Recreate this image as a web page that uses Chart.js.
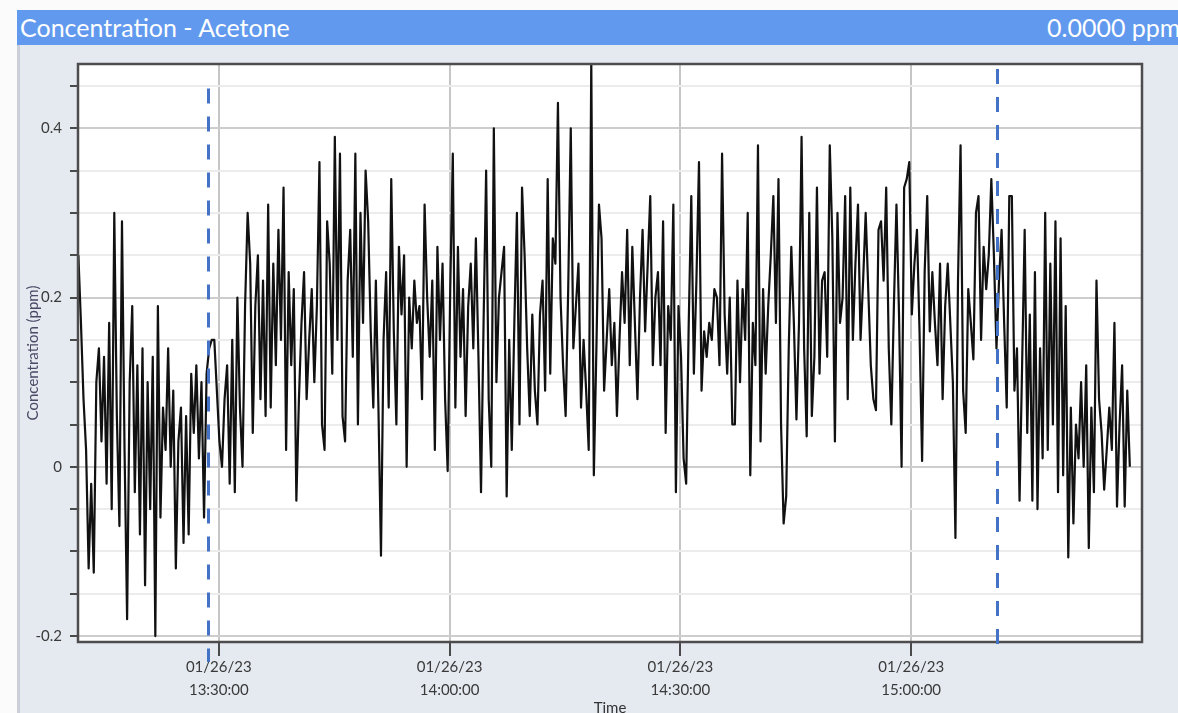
<!DOCTYPE html>
<html lang="en">
<head>
  <meta charset="UTF-8">
  <title>Concentration - Acetone</title>
  <style>
    html, body {
      margin: 0;
      padding: 0;
      width: 1178px;
      height: 713px;
      overflow: hidden;
      background: #fbfbfb;
      font-family: "Lato", "Open Sans", sans-serif;
    }
    #header {
      position: absolute;
      left: 17px;
      top: 10px;
      width: 1161px;
      height: 35px;
      line-height: 35px;
      background: #6199ee;
      color: #fff;
      font-size: 25px;
      white-space: nowrap;
      overflow: hidden;
    }
    #header .name { position: absolute; left: 3px; }
    #header .reading { position: absolute; left: 1030px; }
    #panel {
      position: absolute;
      left: 17px;
      top: 45px;
      width: 1161px;
      height: 668px;
      background: #e5e9f0;
      border-left: 3px solid #cbd0d8;
      box-sizing: border-box;
    }
    #chartBox {
      position: absolute;
      left: 17px;
      top: 47px;
    }
  </style>
</head>
<body>
  <div id="header"><span class="name">Concentration - Acetone</span><span class="reading">0.0000 ppm</span></div>
  <div id="panel"></div>
  <div id="chartBox">
    <canvas id="concChart" width="1161" height="670"></canvas>
  </div>

  <script src="https://cdn.jsdelivr.net/npm/chart.js@4.4.2/dist/chart.umd.min.js"></script>
  <script>
    // axis + sampling
    const dateLabel = '01/26/23';
    const tickTimes = ['13:30:00', '14:00:00', '14:30:00', '15:00:00'];
    const axisStart = '13:11:42';
    const axisEnd = '15:30:00';
    const sampleStart = '13:11:45';
    const sampleStepSec = 20;
    const yTickLabels = [-0.2, 0, 0.2, 0.4];
    const markerTimes = ['13:28:34', '15:11:10'];

    // acetone concentration (ppm), one value every 20 s
    const concA = [
      0.25, 0.17, 0.08, 0.02, -0.12, -0.02, -0.125, 0.10, 0.14, 0.03,
      0.13, -0.02, 0.17, -0.05, 0.30, 0.06, -0.07, 0.29, 0.02, -0.18,
      0.10, 0.19, -0.03, 0.12, -0.08, 0.14, -0.14, 0.10, -0.05, 0.13,
      -0.20, 0.19, -0.06, 0.07, 0.02, 0.14, 0.00, 0.09, -0.12, 0.03,
      0.07, -0.09, 0.06, -0.08, 0.11, 0.04, 0.12, 0.01, 0.10, -0.06,
      0.11
    ];
    const concB = [
      0.14, 0.15, 0.15, 0.09, 0.03, 0.00, 0.08, 0.12, -0.02, 0.15,
      -0.03, 0.20, 0.07, 0.00, 0.19, 0.30, 0.24, 0.04, 0.19, 0.25,
      0.08, 0.22, 0.06, 0.31, 0.07, 0.24, 0.12, 0.28, 0.15, 0.33,
      0.02, 0.23, 0.12, 0.21, -0.04, 0.08, 0.17, 0.23, 0.08, 0.15,
      0.21, 0.10, 0.19, 0.36, 0.05, 0.02, 0.29, 0.24, 0.11, 0.39,
      0.15, 0.37, 0.06, 0.03, 0.22, 0.28, 0.13, 0.37, 0.05, 0.30,
      0.17, 0.35, 0.29, 0.16, 0.07, 0.22, 0.07, -0.105, 0.15, 0.23,
      0.07, 0.34, 0.16, 0.05, 0.26, 0.18, 0.25, 0.00, 0.20, 0.14,
      0.22, 0.17, 0.19, 0.08, 0.31, 0.20, 0.13, 0.22, 0.02, 0.26,
      0.15, 0.24, 0.08, -0.005, 0.21, 0.37, 0.07, 0.26, 0.13, 0.21,
      0.06, 0.19
    ];
    const concC = [
      0.24, 0.14, 0.27, 0.13, -0.03, 0.17, 0.35, 0.08,
      0.00, 0.40, 0.10, 0.20, 0.23, 0.26, -0.035, 0.15, 0.02, 0.17,
      0.30, 0.05, 0.33, 0.25, 0.14, 0.06, 0.18, 0.09, 0.05, 0.18,
      0.22, 0.09, 0.34, 0.11, 0.27, 0.24, 0.43, 0.20, 0.12, 0.06,
      0.21, 0.40, 0.14, 0.19, 0.24, 0.07, 0.15, 0.09, 0.02, 0.48,
      -0.01, 0.14, 0.31, 0.27, 0.09, 0.15, 0.21, 0.12, 0.17, 0.06,
      0.15, 0.23, 0.17, 0.28, 0.12, 0.26, 0.17, 0.08, 0.20, 0.28,
      0.16, 0.24, 0.32, 0.12, 0.20, 0.23, 0.12, 0.29, 0.04, 0.19,
      0.15, 0.31, -0.03, 0.19, 0.13, 0.01, -0.02, 0.17, 0.32, 0.11,
      0.22, 0.36, 0.09, 0.16, 0.13, 0.17, 0.15, 0.21, 0.20, 0.12,
      0.37, 0.18, 0.11, 0.20, 0.05
    ];
    const concD = [
      0.05, 0.22, 0.10, 0.21, 0.15,
      0.30, -0.01, 0.17, 0.12, 0.38, 0.03, 0.21, 0.11, 0.19, 0.25,
      0.32, 0.17, 0.34, 0.05, -0.067, -0.035, 0.14, 0.26, 0.17, 0.056,
      0.17, 0.39, 0.14, 0.036, 0.30, 0.06, 0.13, 0.33, 0.11, 0.22,
      0.23, 0.13, 0.38, 0.27, 0.03, 0.30, 0.17, 0.20, 0.32, 0.08,
      0.33, 0.15, 0.24, 0.31, 0.15, 0.22, 0.30, 0.21, 0.12, 0.08,
      0.067, 0.28, 0.29, 0.22, 0.33, 0.14, 0.05, 0.19, 0.31, 0.18,
      0.00, 0.33, 0.34, 0.36, 0.18, 0.24, 0.28, 0.16, 0.007, 0.23,
      0.32, 0.16, 0.23, 0.17, 0.12, 0.24, 0.08, 0.19, 0.24, 0.17,
      0.10, -0.084, 0.22, 0.38, 0.09, 0.04, 0.21, 0.17, 0.127, 0.30,
      0.32, 0.15, 0.26, 0.21, 0.25, 0.34, 0.25
    ];
    const concE = [
      0.14, 0.22, 0.28,
      0.17, 0.07, 0.32, 0.32, 0.09, 0.14, -0.04, 0.12, 0.28, 0.04,
      0.18, -0.04, 0.23, -0.05, 0.14, 0.01, 0.30, 0.02, 0.24, 0.05,
      0.29, -0.03, 0.27, -0.01, 0.19, -0.107, 0.07, -0.067, 0.05, 0.01,
      0.10, 0.00, 0.12, -0.096, 0.07, -0.03, 0.22, 0.08, 0.04, -0.027,
      0.02, 0.07, 0.02, 0.17, -0.047, 0.05, 0.12, -0.047, 0.09, 0.00
    ];

    const toSec = s => {
      const [h, m, sec] = s.split(':').map(Number);
      return h * 3600 + m * 60 + sec;
    };
    const pad = n => String(n).padStart(2, '0');
    const secToStr = v => pad(Math.floor(v / 3600)) + ':' + pad(Math.floor(v / 60) % 60) + ':' + pad(Math.round(v % 60));
    const isLabelled = v => yTickLabels.some(l => Math.abs(l - v) < 1e-6);

    const conc = [...concA, ...concB, ...concC, ...concD, ...concE];
    const t0 = toSec(sampleStart);
    const points = conc.map((v, i) => ({ x: t0 + i * sampleStepSec, y: v }));

    // white plot area, dark frame, blue dashed event markers
    const framePlugin = {
      id: 'frame',
      beforeDraw(chart) {
        const { ctx, chartArea: a } = chart;
        ctx.save();
        ctx.fillStyle = '#ffffff';
        ctx.fillRect(a.left, a.top, a.right - a.left, a.bottom - a.top);
        ctx.restore();
      },
      afterDraw(chart) {
        const { ctx, chartArea: a, scales } = chart;
        ctx.save();
        ctx.strokeStyle = '#4d4d4d';
        ctx.lineWidth = 2.5;
        ctx.strokeRect(a.left, a.top, a.right - a.left, a.bottom - a.top);

        const tops = [0.447, 0.47];
        const below = [20, 3];
        ctx.strokeStyle = '#4472c4';
        ctx.lineWidth = 3;
        ctx.setLineDash([15, 13]);
        markerTimes.forEach((t, k) => {
          const px = Math.round(scales.x.getPixelForValue(toSec(t))) + 0.5;
          ctx.beginPath();
          ctx.moveTo(px, scales.y.getPixelForValue(tops[k]));
          ctx.lineTo(px, a.bottom + below[k]);
          ctx.stroke();
        });
        ctx.restore();
      }
    };

    const tickFont = { family: 'Lato', size: 15 };

    new Chart(document.getElementById('concChart'), {
      type: 'line',
      data: {
        datasets: [{
          data: points,
          borderColor: '#111111',
          borderWidth: 2.2,
          borderJoinStyle: 'round',
          pointRadius: 0,
          tension: 0,
          fill: false
        }]
      },
      options: {
        responsive: false,
        animation: false,
        devicePixelRatio: 1,
        layout: { padding: { top: 13, right: 36, left: 0, bottom: 0 } },
        plugins: {
          legend: { display: false },
          tooltip: { enabled: false }
        },
        scales: {
          x: {
            type: 'linear',
            min: toSec(axisStart),
            max: toSec(axisEnd),
            afterBuildTicks: s => { s.ticks = tickTimes.map(t => ({ value: toSec(t) })); },
            afterFit: s => { s.height = 75; },
            border: { display: false },
            grid: { color: '#c6c6c6', lineWidth: 2, tickLength: 14, tickColor: '#4a4a4a', tickWidth: 2 },
            ticks: {
              autoSkip: false,
              maxRotation: 0,
              padding: 0,
              color: '#3a3a3a',
              font: { family: 'Lato', size: 15, lineHeight: 1.53 },
              callback: v => [dateLabel, secToStr(v)]
            },
            title: {
              display: true,
              text: 'Time',
              color: '#333333',
              font: { family: 'Lato', size: 15 },
              padding: { top: 0, bottom: 0 }
            }
          },
          y: {
            min: -0.207,
            max: 0.476,
            afterFit: s => { s.width = 61; },
            border: { display: false },
            grid: {
              color: c => (c.tick && isLabelled(c.tick.value)) ? '#cdcdcd' : '#ececec',
              lineWidth: 2,
              tickLength: 8,
              tickColor: '#4a4a4a',
              tickWidth: 2
            },
            ticks: {
              stepSize: 0.05,
              includeBounds: false,
              padding: 8,
              color: '#3a3a3a',
              font: tickFont,
              callback: v => {
                const m = yTickLabels.find(l => Math.abs(l - v) < 1e-6);
                return m === undefined ? '' : String(m);
              }
            },
            title: {
              display: true,
              text: 'Concentration (ppm)',
              color: '#4a4a66',
              font: { family: 'Lato', size: 15 },
              padding: { top: 7, bottom: 0 }
            }
          }
        }
      },
      plugins: [framePlugin]
    });
  </script>
</body>
</html>
